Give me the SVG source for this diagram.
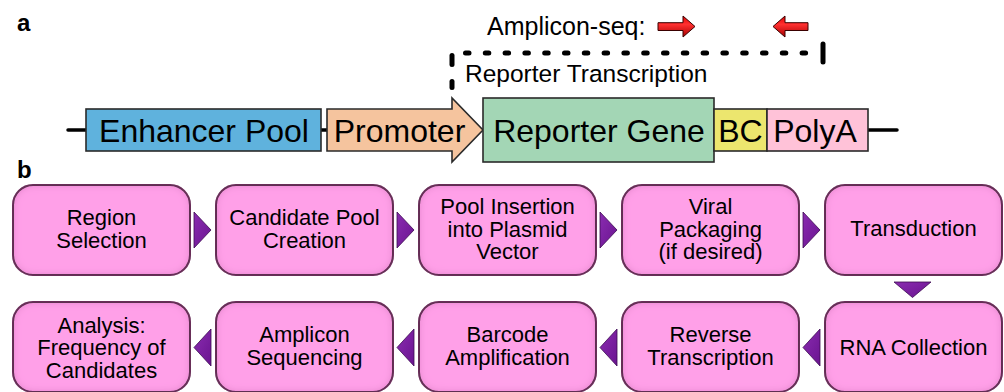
<svg xmlns="http://www.w3.org/2000/svg" width="1004" height="392" viewBox="0 0 1004 392">
  <style>
    text { font-family: "Liberation Sans", Arial, Helvetica, sans-serif; fill: #000; }
    .panel { font-weight: bold; font-size: 24px; }
    .big { font-size: 32px; text-anchor: middle; }
    .mid { font-size: 24.5px; }
    .amp { font-size: 25px; }
    .step { font-size: 22px; text-anchor: middle; }
    .part { stroke: #2a2a2a; stroke-width: 1.6; }
    .box { fill: #ffa0e8; stroke: #2a2a2a; stroke-width: 2; filter: url(#inset); }
    .tri { fill: url(#purp); stroke: #3c0a52; stroke-width: 0.8; }
    .wire { stroke: #000; stroke-width: 3.5; stroke-linecap: round; fill: none; }
    .dots { stroke: #000; stroke-width: 5; stroke-linecap: round; fill: none; }
    .red { fill: url(#redg); stroke: #3a0000; stroke-width: 1; }
  </style>
  <defs>
    <filter id="inset" x="-5%" y="-5%" width="110%" height="110%">
      <feGaussianBlur in="SourceAlpha" stdDeviation="4" result="b"/>
      <feComposite in="SourceAlpha" in2="b" operator="out" result="edge"/>
      <feFlood flood-color="#b23c95" flood-opacity="0.6"/>
      <feComposite in2="edge" operator="in" result="shadow"/>
      <feMerge><feMergeNode in="SourceGraphic"/><feMergeNode in="shadow"/></feMerge>
    </filter>
    <linearGradient id="redg" x1="0" y1="0" x2="0" y2="1">
      <stop offset="0" stop-color="#e00000"/>
      <stop offset="0.4" stop-color="#ff3030"/>
      <stop offset="1" stop-color="#a80000"/>
    </linearGradient>
    <linearGradient id="purp" x1="0" y1="0" x2="1" y2="1">
      <stop offset="0" stop-color="#8a2cb0"/>
      <stop offset="1" stop-color="#6a1490"/>
    </linearGradient>
  </defs>

  <!-- panel labels -->
  <text class="panel" x="17" y="31">a</text>
  <text class="panel" x="17" y="178">b</text>

  <!-- panel a: construct -->
  <g id="construct-line">
    <line class="wire" x1="68" y1="130" x2="86" y2="130"/>
    <line class="wire" x1="321" y1="130" x2="327" y2="130"/>
    <line class="wire" x1="868" y1="130" x2="897" y2="130"/>
  </g>
  <g id="enhancer-pool">
    <rect class="part" x="86" y="109" width="235" height="42" fill="#5fb2dd"/>
    <text class="big" x="204" y="141.5">Enhancer Pool</text>
  </g>
  <g id="promoter">
    <path class="part" d="M327,109 H452 V98 L483,130 L452,162 V151 H327 Z" fill="#f5c49e"/>
    <text class="big" x="399.5" y="141.5">Promoter</text>
  </g>
  <g id="reporter-gene">
    <rect class="part" x="483" y="98" width="231" height="64" fill="#a3d6b5"/>
    <text class="big" x="599" y="141.5">Reporter Gene</text>
  </g>
  <g id="bc">
    <rect class="part" x="714" y="109" width="53" height="42" fill="#ece66e"/>
    <text class="big" x="740.5" y="141.5">BC</text>
  </g>
  <g id="polya">
    <rect class="part" x="767" y="109" width="101" height="42" fill="#ffc2d8"/>
    <text class="big" x="815" y="141.5">PolyA</text>
  </g>

  <g id="reporter-transcription">
    <line class="dots" x1="452" y1="55.5" x2="452" y2="64.5"/>
    <line class="dots" x1="452" y1="81.5" x2="452" y2="87.5"/>
    <path class="dots" d="M465.5,53 H806" stroke-dasharray="3.5 16.3"/>
    <line class="dots" x1="823" y1="44" x2="823" y2="62"/>
    <text class="mid" x="465" y="82">Reporter Transcription</text>
  </g>

  <g id="amplicon-seq">
    <text class="amp" x="487" y="35">Amplicon-seq:</text>
    <path class="red" d="M658,22.7 H683 V16 L695,26.5 L683,37 V30.5 H658 Z"/>
    <path class="red" d="M808,22.7 H785 V16 L773,26.5 L785,37 V30.5 H808 Z"/>
  </g>

  <!-- panel b: workflow -->
  <g id="connectors">
    <path class="tri" d="M194,212 L194,248 L211,230 Z"/>
    <path class="tri" d="M397,212 L397,248 L414,230 Z"/>
    <path class="tri" d="M600,212 L600,248 L617,230 Z"/>
    <path class="tri" d="M803,212 L803,248 L820,230 Z"/>
    <path class="tri" d="M894,282 L931,282 L912.5,297.5 Z"/>
    <path class="tri" d="M820,329 L820,366 L803,347.5 Z"/>
    <path class="tri" d="M617,329 L617,366 L600,347.5 Z"/>
    <path class="tri" d="M414,329 L414,366 L397,347.5 Z"/>
    <path class="tri" d="M211,329 L211,366 L194,347.5 Z"/>
  </g>

  <g id="region-selection">
    <rect class="box" x="13" y="185" width="177" height="90" rx="20"/>
    <text class="step" x="101.5" y="225">Region</text>
    <text class="step" x="101.5" y="247.5">Selection</text>
  </g>
  <g id="candidate-pool-creation">
    <rect class="box" x="216" y="185" width="177" height="90" rx="20"/>
    <text class="step" x="304.5" y="225">Candidate Pool</text>
    <text class="step" x="304.5" y="247.5">Creation</text>
  </g>
  <g id="pool-insertion">
    <rect class="box" x="419" y="185" width="177" height="90" rx="20"/>
    <text class="step" x="507.5" y="214">Pool Insertion</text>
    <text class="step" x="507.5" y="236.5">into Plasmid</text>
    <text class="step" x="507.5" y="259">Vector</text>
  </g>
  <g id="viral-packaging">
    <rect class="box" x="622" y="185" width="177" height="90" rx="20"/>
    <text class="step" x="710.5" y="214">Viral</text>
    <text class="step" x="710.5" y="236.5">Packaging</text>
    <text class="step" x="710.5" y="259">(if desired)</text>
  </g>
  <g id="transduction">
    <rect class="box" x="825" y="185" width="177" height="90" rx="20"/>
    <text class="step" x="913.5" y="236">Transduction</text>
  </g>

  <g id="analysis">
    <rect class="box" x="13" y="302" width="177" height="90" rx="20"/>
    <text class="step" x="101.5" y="332.5">Analysis:</text>
    <text class="step" x="101.5" y="355">Frequency of</text>
    <text class="step" x="101.5" y="377.5">Candidates</text>
  </g>
  <g id="amplicon-sequencing">
    <rect class="box" x="216" y="302" width="177" height="90" rx="20"/>
    <text class="step" x="304.5" y="342">Amplicon</text>
    <text class="step" x="304.5" y="364.5">Sequencing</text>
  </g>
  <g id="barcode-amplification">
    <rect class="box" x="419" y="302" width="177" height="90" rx="20"/>
    <text class="step" x="507.5" y="342">Barcode</text>
    <text class="step" x="507.5" y="364.5">Amplification</text>
  </g>
  <g id="reverse-transcription">
    <rect class="box" x="622" y="302" width="177" height="90" rx="20"/>
    <text class="step" x="710.5" y="342">Reverse</text>
    <text class="step" x="710.5" y="364.5">Transcription</text>
  </g>
  <g id="rna-collection">
    <rect class="box" x="825" y="302" width="177" height="90" rx="20"/>
    <text class="step" x="913.5" y="354.5">RNA Collection</text>
  </g>
</svg>
